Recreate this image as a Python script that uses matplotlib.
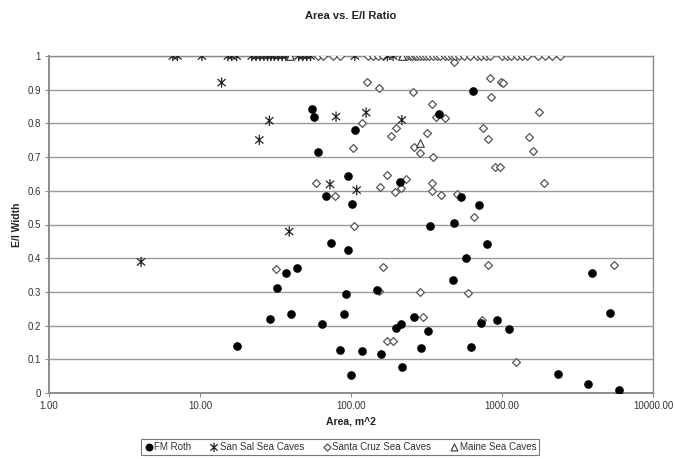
import matplotlib
matplotlib.use("Agg")
import matplotlib.pyplot as plt
from matplotlib.path import Path
from matplotlib.ticker import FixedLocator, NullLocator

plt.rcParams['font.family'] = ['Liberation Sans', 'DejaVu Sans']

# ---- data ----
fm_area = [17.5, 29, 32.2, 37, 43.7, 39.9, 55.5, 56.9, 60.7, 64, 68, 73.7, 84.5, 90, 92.7,
           96, 96, 100.5, 102, 106, 118, 148, 157, 199, 211, 213, 218, 261, 291, 325, 332,
           384, 476, 479, 535, 580, 621, 646, 707, 722, 791, 931, 1117, 2360, 3731, 3926,
           5189, 5985]
fm_ratio = [0.139, 0.22, 0.312, 0.355, 0.372, 0.233, 0.842, 0.818, 0.716, 0.205, 0.585, 0.445,
            0.128, 0.233, 0.293, 0.644, 0.424, 0.053, 0.562, 0.78, 0.126, 0.306, 0.116, 0.194,
            0.627, 0.205, 0.076, 0.226, 0.133, 0.185, 0.496, 0.828, 0.335, 0.505, 0.581, 0.401,
            0.136, 0.896, 0.558, 0.207, 0.442, 0.217, 0.19, 0.055, 0.028, 0.357, 0.238, 0.009]

sansal_area = [4.07, 13.9, 24.7, 28.8, 39, 72.6, 79.6, 109, 126, 217,
               6.6, 7.1, 10.3, 15.3, 16.2, 17.5, 22, 23.5, 25, 26.5, 28, 29.5, 31, 33, 35, 37,
               45, 48, 51, 54, 106, 174, 190]
sansal_ratio = [0.389, 0.921, 0.751, 0.808, 0.479, 0.619, 0.82, 0.602, 0.832, 0.81,
                1.0, 1.0, 1.0, 1.0, 1.0, 1.0, 1.0, 1.0, 1.0, 1.0, 1.0, 1.0, 1.0, 1.0, 1.0, 1.0,
                1.0, 1.0, 1.0, 1.0, 1.0, 1.0, 1.0]

santacruz_area = [31.7, 58.4, 78, 102.6, 104, 119, 127, 153, 154, 156, 164, 172, 174, 184, 189,
                  195, 200, 213, 231, 256, 261, 286, 286, 301, 320, 342, 345, 345, 347, 365,
                  394, 418, 480, 506, 598, 656, 733, 745, 813, 813, 831, 852, 899, 970, 980,
                  1020, 1239, 1510, 1611, 1758, 1897, 5543,
                  60, 65, 76, 85, 130, 140, 150, 163, 234, 245, 255, 265, 275, 285, 300, 315,
                  330, 350, 370, 389, 418, 440, 465, 490, 520, 560, 614, 680, 730, 780, 830,
                  1000, 1080, 1150, 1250, 1360, 1470, 1740, 1930, 2150, 2420]
santacruz_ratio = [0.368, 0.622, 0.585, 0.726, 0.496, 0.80, 0.924, 0.304, 0.906, 0.612, 0.373,
                   0.154, 0.647, 0.763, 0.154, 0.596, 0.785, 0.607, 0.635, 0.892, 0.731, 0.713,
                   0.30, 0.226, 0.772, 0.60, 0.622, 0.858, 0.70, 0.818, 0.588, 0.815, 0.983,
                   0.59, 0.298, 0.523, 0.217, 0.785, 0.754, 0.38, 0.936, 0.877, 0.67, 0.67,
                   0.924, 0.919, 0.093, 0.759, 0.719, 0.835, 0.624, 0.379,
                   1.0, 1.0, 1.0, 1.0, 1.0, 1.0, 1.0, 1.0, 1.0, 1.0, 1.0, 1.0, 1.0, 1.0, 1.0,
                   1.0, 1.0, 1.0, 1.0, 1.0, 1.0, 1.0, 1.0, 1.0, 1.0, 1.0, 1.0, 1.0, 1.0, 1.0,
                   1.0, 1.0, 1.0, 1.0, 1.0, 1.0, 1.0, 1.0, 1.0, 1.0, 1.0]

maine_area = [39.5, 218, 286]
maine_ratio = [1.0, 1.0, 0.741]

x_ticks = [1, 10, 100, 1000, 10000]
x_tick_labels = ['1.00', '10.00', '100.00', '1000.00', '10000.00']
y_ticks = [0, 0.1, 0.2, 0.3, 0.4, 0.5, 0.6, 0.7, 0.8, 0.9, 1]
y_tick_labels = ['0', '0.1', '0.2', '0.3', '0.4', '0.5', '0.6', '0.7', '0.8', '0.9', '1']

# ---- figure ----
fig = plt.figure(figsize=(6.75, 4.59), dpi=100)
ax = fig.add_axes([49/675, 1 - 393/459, (653 - 49)/675, (393 - 56)/459])

ax.set_xscale('log')
ax.set_xlim(1, 10000)
ax.set_ylim(0, 1)
ax.xaxis.set_major_locator(FixedLocator(x_ticks))
ax.xaxis.set_minor_locator(NullLocator())
ax.set_xticklabels(x_tick_labels)
ax.set_yticks(y_ticks)
ax.set_yticklabels(y_tick_labels)

for y in y_ticks[1:]:
    ax.axhline(y, color='#9a9a9a', lw=1.0, zorder=0)

for s in ax.spines.values():
    s.set_color('#8c8c8c')
    s.set_linewidth(1.0)
ax.spines['left'].set_linewidth(1.4)
ax.spines['bottom'].set_linewidth(1.4)

ax.tick_params(axis='both', direction='out', length=3, width=0.8, color='#8c8c8c',
               labelsize=7, labelcolor='#333333', pad=3)

star = Path([(-0.8, -0.7), (0.8, 0.7), (-0.8, 0.7), (0.8, -0.7), (0, -1), (0, 1)],
            [Path.MOVETO, Path.LINETO, Path.MOVETO, Path.LINETO, Path.MOVETO, Path.LINETO])

ax.scatter(santacruz_area, santacruz_ratio, marker='D', s=16, facecolors='white',
           edgecolors='#555555', linewidths=0.9, label='Santa Cruz Sea Caves', zorder=3)
ax.scatter(sansal_area, sansal_ratio, marker=star, s=55, facecolors='none',
           edgecolors='#222222', linewidths=0.9, label='San Sal Sea Caves', zorder=4)
ax.scatter(maine_area, maine_ratio, marker='^', s=30, facecolors='white',
           edgecolors='#333333', linewidths=0.8, label='Maine Sea Caves', zorder=4)
ax.scatter(fm_area, fm_ratio, marker='o', s=27, color='black', label='FM Roth', zorder=5)

fig.text(351/675, 1 - 16/459, 'Area vs. E/I Ratio', ha='center', va='center',
         fontsize=8, fontweight='bold', color='#222222')
ax.set_xlabel('Area, m^2', fontsize=7.5, fontweight='bold', color='#222222', labelpad=4)
ax.set_ylabel('E/I Width', fontsize=7.5, fontweight='bold', color='#222222', labelpad=4)

handles, labels = ax.get_legend_handles_labels()
order = [3, 1, 0, 2]
leg = fig.legend([handles[i] for i in order], [labels[i] for i in order],
                 loc='center', bbox_to_anchor=(340/675, 1 - 447/459), ncol=4,
                 fontsize=7, frameon=True, fancybox=False, edgecolor='#555555',
                 handletextpad=0.1, columnspacing=1.8, handlelength=1.0,
                 borderpad=0.3, markerscale=0.9)
leg.get_frame().set_linewidth(0.8)
for t in leg.get_texts():
    t.set_color('#333333')

fig.savefig('out.png', dpi=100)
